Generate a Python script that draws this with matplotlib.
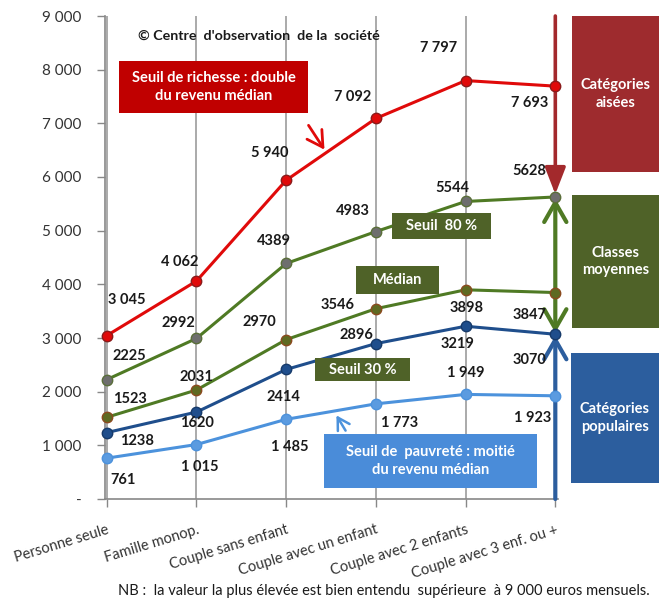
import matplotlib
matplotlib.use('Agg')
import matplotlib.pyplot as plt
from matplotlib.patches import Rectangle

# ---------------- data ----------------
categories = ["Personne seule", "Famille monop.", "Couple sans enfant",
              "Couple avec un enfant", "Couple avec 2 enfants", "Couple avec 3 enf. ou +"]
richesse = [3045, 4062, 5940, 7092, 7797, 7693]
seuil80 = [2225, 2992, 4389, 4983, 5544, 5628]
median = [1523, 2031, 2970, 3546, 3898, 3847]
seuil30 = [1238, 1620, 2414, 2896, 3219, 3070]
pauvrete = [761, 1015, 1485, 1773, 1949, 1923]

richesse_labels = ["3 045", "4 062", "5 940", "7 092", "7 797", "7 693"]
seuil80_labels = ["2225", "2992", "4389", "4983", "5544", "5628"]
median_labels = ["1523", "2031", "2970", "3546", "3898", "3847"]
seuil30_labels = ["1238", "1620", "2414", "2896", "3219", "3070"]
pauvrete_labels = ["761", "1 015", "1 485", "1 773", "1 949", "1 923"]

yticks = [0, 1000, 2000, 3000, 4000, 5000, 6000, 7000, 8000, 9000]
ytick_labels = ["-", "1 000", "2 000", "3 000", "4 000", "5 000", "6 000", "7 000", "8 000", "9 000"]

# ---------------- style ----------------
W, H = 659, 607
FONT = ['Lato', 'DejaVu Sans']
plt.rcParams['font.family'] = FONT

C_RED = '#E00A0A'
C_GREEN = '#4F7A24'
C_DBLUE = '#1F4E8C'
C_LBLUE = '#4C92DC'

fig = plt.figure(figsize=(W / 100, H / 100), dpi=100)
ax = fig.add_axes([105 / W, 1 - 499 / H, (558 - 105) / W, (499 - 16) / H])


def fx(x):
    return x / W


def fy(y):
    return 1 - y / H


x = list(range(len(categories)))

series = [
    (richesse, richesse_labels, C_RED, '#E00A0A', '#8B1A1A',
     [(20, 36), (-17, 19), (-16, 27), (-23, 21), (-27, 33), (-26, -17)]),
    (seuil80, seuil80_labels, C_GREEN, '#6E6E6E', '#5A6E3A',
     [(23, 24), (-18, 15), (-12, 22), (-23, 21), (-13, 13), (-26, 26)]),
    (median, median_labels, C_GREEN, '#5E6A22', '#8A4A1E',
     [(23, 18), (0, 13), (-27, 18), (-38, 4), (1, -18), (-26, -22)]),
    (seuil30, seuil30_labels, C_DBLUE, '#1F4E8C', '#163A6A',
     [(30, -8), (0, -11), (-3, -28), (-19, 9), (-8, -18), (-26, -26)]),
    (pauvrete, pauvrete_labels, C_LBLUE, '#5B9BE0', '#4C92DC',
     [(16, -22), (3, -22), (4, -28), (24, -19), (0, 21), (-23, -22)]),
]

for vals, labs, lc, mfc, mec, offs in series:
    ax.plot(x, vals, color=lc, lw=2.2, marker='o', ms=7.5, mfc=mfc, mec=mec,
            mew=1.0, zorder=4, clip_on=False)
    for xi, v, lab, (dx, dy) in zip(x, vals, labs, offs):
        ax.annotate(lab, (xi, v), xytext=(dx, dy), textcoords='offset pixels',
                    ha='center', va='center', fontsize=10.5, fontweight='bold',
                    color='#1a1a1a', zorder=6, annotation_clip=False)

# axes
ax.set_xlim(-0.02, 5.03)
ax.set_ylim(0, 9000)
ax.set_yticks(yticks)
ax.set_yticklabels(ytick_labels, fontsize=11, color='#333333')
ax.set_xticks(x)
ax.set_xticklabels(categories, fontsize=10.5, color='#333333', rotation=17,
                   ha='right', rotation_mode='anchor')
ax.tick_params(axis='y', length=6, color='#888888', width=1, pad=11)
ax.tick_params(axis='x', length=6, color='#888888', width=1, pad=11)
for s in ['top', 'right']:
    ax.spines[s].set_visible(False)
for s in ['left', 'bottom']:
    ax.spines[s].set_color('#888888')
    ax.spines[s].set_linewidth(1.2)
ax.xaxis.grid(True, color='#939393', lw=1.1)
ax.set_axisbelow(True)

# vertical arrows at the last category
xl = x[-1]
ax.annotate('', xy=(xl, seuil80[-1]), xytext=(xl, 9000),
            arrowprops=dict(arrowstyle='-|>,head_length=0.9,head_width=0.35',
                            color='#A3292C', lw=2.6, shrinkA=0, shrinkB=2,
                            mutation_scale=18), zorder=3, annotation_clip=False)
ax.annotate('', xy=(xl, seuil30[-1]), xytext=(xl, seuil80[-1]),
            arrowprops=dict(arrowstyle='<->,head_length=0.7,head_width=0.4',
                            color=C_GREEN, lw=3.0, shrinkA=1, shrinkB=1,
                            mutation_scale=20), zorder=3, annotation_clip=False)
ax.annotate('', xy=(xl, seuil30[-1]), xytext=(xl, 0),
            arrowprops=dict(arrowstyle='->,head_length=0.7,head_width=0.4',
                            color='#2C5E9E', lw=3.0, shrinkA=0, shrinkB=1,
                            mutation_scale=20), zorder=3, annotation_clip=False)


def box(x0, y0, x1, y1, color, text, fs=10.5, z=7):
    r = Rectangle((fx(x0), fy(y1)), fx(x1 - x0), (y1 - y0) / H,
                  transform=fig.transFigure, facecolor=color, edgecolor='none',
                  zorder=z, clip_on=False)
    ax.add_patch(r)
    ax.text(fx((x0 + x1) / 2), fy((y0 + y1) / 2), text, transform=fig.transFigure,
            ha='center', va='center', color='white', fontsize=fs,
            fontweight='bold', zorder=z + 1, linespacing=1.35)


# right side category boxes
box(572, 16, 659, 172, '#9E2B2E', 'Catégories\naisées')
box(572, 195, 659, 328, '#4F6228', 'Classes\nmoyennes')
box(571, 353, 659, 483, '#2C5E9E', 'Catégories\npopulaires')

# annotation boxes
box(119, 61, 308, 113, '#C00000', 'Seuil de richesse : double\ndu revenu médian')
box(392, 213, 491, 239, '#4F6228', 'Seuil  80 %')
box(356, 266, 439, 294, '#4F6228', 'Médian')
box(315, 358, 410, 381, '#4F6228', 'Seuil 30 %')
box(324, 434, 537, 488, '#4A8CD9', 'Seuil de  pauvreté : moitié\ndu revenu médian')

# small pointer arrows
ax.annotate('', xy=(fx(326), fy(152)), xytext=(fx(307), fy(123)),
            xycoords='figure fraction', textcoords='figure fraction',
            arrowprops=dict(arrowstyle='->,head_length=0.7,head_width=0.4',
                            color=C_RED, lw=2.0, mutation_scale=16), zorder=8)
ax.annotate('', xy=(fx(335), fy(413)), xytext=(fx(347), fy(433)),
            xycoords='figure fraction', textcoords='figure fraction',
            arrowprops=dict(arrowstyle='->,head_length=0.6,head_width=0.35',
                            color=C_LBLUE, lw=1.8, mutation_scale=14), zorder=8)

# texts
fig.text(fx(138), fy(36), "© Centre  d'observation  de la  société", ha='left',
         va='center', fontsize=10.3, fontweight='bold', color='#1a1a1a')
fig.text(fx(650), fy(591),
         "NB :  la valeur la plus élevée est bien entendu  supérieure  à 9 000 euros mensuels.",
         ha='right', va='center', fontsize=10.5, color='#1a1a1a')

fig.savefig('out.png', dpi=100)
